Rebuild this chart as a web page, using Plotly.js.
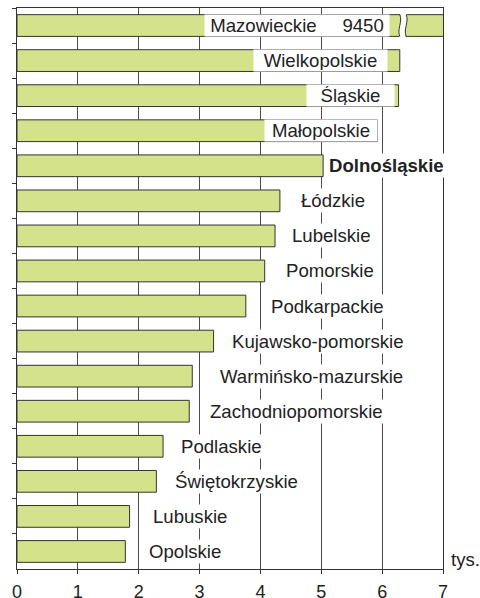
<!DOCTYPE html>
<html>
<head>
<meta charset="utf-8">
<script src="https://cdn.plot.ly/plotly-3.0.1.min.js"></script>
<style>
html,body{margin:0;padding:0;background:#fff;}
#chart{width:480px;height:598px;}
</style>
</head>
<body>
<div id="chart"></div>
<script>
// Voivodeships, top to bottom
var regions = ["Mazowieckie","Wielkopolskie","Śląskie","Małopolskie","Dolnośląskie","Łódzkie","Lubelskie","Pomorskie","Podkarpackie","Kujawsko-pomorskie","Warmińsko-mazurskie","Zachodniopomorskie","Podlaskie","Świętokrzyskie","Lubuskie","Opolskie"];
// values in thousands (tys.)
var values = [9.45, 6.29, 6.27, 5.92, 5.03, 4.32, 4.24, 4.07, 3.76, 3.23, 2.88, 2.83, 2.40, 2.29, 1.85, 1.78];
var xTicks = [0,1,2,3,4,5,6,7];
var xTickLabels = ["0","1","2","3","4","5","6","7"];
var unitLabel = "tys.";
var highlighted = "Dolnośląskie";

// label placement (layout)
var labelX = [4.607, 4.98, 5.48, 4.99, 6.075, 5.195, 5.16, 5.15, 5.10, 4.95, 4.84, 4.59, 3.36, 3.60, 2.84, 2.76];
var boxW = {0:182, 1:131, 2:85, 3:110};
var FONT = 'Liberation Sans, Arial, sans-serif';

var annotations = regions.map(function(r, i){
  var txt = r;
  if (i === 0) txt = r + "\u00A0\u00A0\u00A0\u00A0\u00A0" + Math.round(values[i]*1000);
  if (r === highlighted) txt = "<b>" + r + "</b>";
  var a = {
    x: labelX[i], y: r, xref: 'x', yref: 'y',
    text: txt, showarrow: false, xanchor: 'center', yanchor: 'middle',
    bgcolor: '#ffffff', borderpad: 1,
    font: {family: FONT, size: 18.6, color: '#222222'}
  };
  if (boxW[i] !== undefined) { a.width = boxW[i]; a.height = 19; }
  return a;
});
annotations.push({
  x: 1, xref: 'paper', xanchor: 'left', xshift: 6,
  y: 0, yref: 'paper', yanchor: 'bottom', yshift: -3,
  text: unitLabel, showarrow: false,
  font: {family: FONT, size: 18.6, color: '#222222'}
});

var xL = 6.29, xR = 6.395;
function wave(x, y0, y1){
  return 'M' + x + ',' + y0 + ' C' + (x+0.05) + ',' + (y0*0.35) + ' ' + (x-0.05) + ',' + (y1*0.35) + ' ' + x + ',' + y1;
}
var shapes = [
  {type:'path', xref:'x', yref:'y', layer:'above',
   path: 'M' + xL + ',-0.36 C' + (xL+0.05) + ',-0.126 ' + (xL-0.05) + ',0.126 ' + xL + ',0.36 L' + xR + ',0.36 C' + (xR-0.05) + ',0.126 ' + (xR+0.05) + ',-0.126 ' + xR + ',-0.36 Z',
   fillcolor:'#ffffff', line:{width:0}},
  {type:'path', xref:'x', yref:'y', layer:'above', path: wave(xL, -0.31, 0.31), line:{color:'#333333', width:1}},
  {type:'path', xref:'x', yref:'y', layer:'above', path: wave(xR, -0.31, 0.31), line:{color:'#333333', width:1}}
];

var trace = {
  type: 'bar', orientation: 'h',
  x: values, y: regions,
  width: 0.62,
  marker: {color: '#d4e38b', line: {color: '#333333', width: 1}},
  hoverinfo: 'x+y'
};

var layout = {
  width: 480, height: 598,
  margin: {l: 16.5, r: 36.5, t: 8, b: 28.5, pad: 0},
  paper_bgcolor: '#ffffff', plot_bgcolor: '#ffffff',
  showlegend: false,
  xaxis: {
    range: [0, 7], tickvals: xTicks, ticktext: xTickLabels,
    showgrid: true, gridcolor: '#4d4d4d', gridwidth: 1,
    zeroline: false, showline: true, linecolor: '#333333', linewidth: 1, mirror: true,
    ticks: 'outside', ticklen: 4, tickcolor: '#333333', ticklabelstandoff: 2,
    tickfont: {family: FONT, size: 18, color: '#222222'}
  },
  yaxis: {
    type: 'category', autorange: 'reversed',
    showticklabels: false, showgrid: false, zeroline: false,
    showline: true, linecolor: '#333333', linewidth: 1, mirror: true,
    ticks: 'outside', tickson: 'boundaries', ticklen: 4, tickcolor: '#333333'
  },
  annotations: annotations,
  shapes: shapes
};

Plotly.newPlot('chart', [trace], layout, {displayModeBar: false, staticPlot: true});
</script>
</body>
</html>
